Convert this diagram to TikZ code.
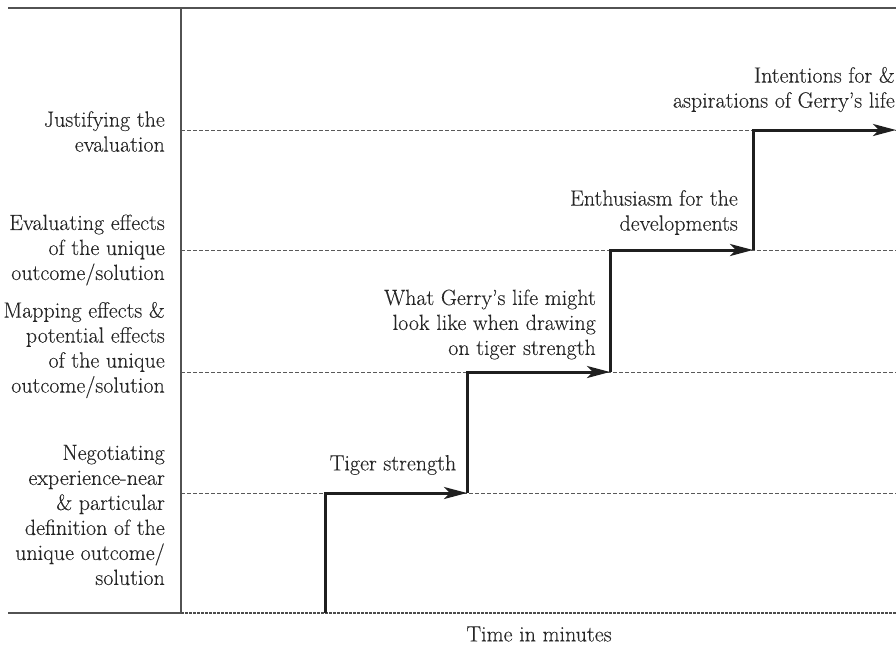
\documentclass[tikz,border=0pt]{standalone}
\usepackage{fontspec}
\setmainfont{Latin Modern Roman}[UprightFeatures={FakeBold=0.15}]
\usetikzlibrary{arrows.meta}
\begin{document}
\begin{tikzpicture}[x=1pt,y=-1pt,
  frame/.style={draw=black!68,line width=1.4pt},
  level/.style={draw=black!65,line width=0.9pt,dash pattern=on 4pt off 2pt},
  baseline dash/.style={draw=black!70,line width=1.3pt,dash pattern=on 3pt off 1pt},
  stair/.style={draw=black!88,line width=3pt,
    -{Stealth[length=23pt,width=12pt,inset=6pt]}},
  lab/.style={font=\fontsize{22}{25}\selectfont,text=black!85,align=right,inner sep=0pt},
]
\useasboundingbox (0,0) rectangle (896,645);

% frame corners and axis
\coordinate (tl) at (8,8);
\coordinate (tr) at (896,8);
\coordinate (ax top) at (181,8);
\coordinate (ax bot) at (181,613);
\coordinate (bl) at (8,613);
\coordinate (br) at (896,613);

% level lines
\foreach \n/\y in {l1/130, l2/250, l3/372, l4/493}{
  \coordinate (\n a) at (181,\y);
  \coordinate (\n b) at (896,\y);
  \draw[level] (\n a) -- (\n b);
}

\draw[frame] (tl) -- (tr);
\draw[frame] (ax top) -- (ax bot);
\draw[frame] (bl) -- (ax bot);
\draw[baseline dash] (ax bot) -- (br);

% staircase
\coordinate (s0) at (325,613);
\coordinate (s1) at (467,493);
\coordinate (s2) at (610,372);
\coordinate (s3) at (753,250);
\coordinate (s4) at (896,130);
\draw[stair] (s0) |- (s1);
\draw[stair] (s1) |- (s2);
\draw[stair] (s2) |- (s3);
\draw[stair] (s3) |- (s4);

% stage labels on the left
\node[lab,anchor=east] (justify) at (165,131.5) {Justifying the\\evaluation};
\node[lab,anchor=east] (evaluate) at (165,250) {Evaluating effects\\of the unique\\outcome/solution};
\node[lab,anchor=east] (mapping) at (165,350) {Mapping effects \&\\potential effects\\of the unique\\outcome/solution};
\node[lab,anchor=east] (negotiate) at (165,515) {Negotiating\\experience-near\\\& particular\\definition of the\\unique outcome/\\solution};

% step labels
\node[lab] (tiger) at (393,465) {Tiger strength};
\node[lab,anchor=east] (gerry) at (596,324.5) {What Gerry’s life might\\look like when drawing\\on tiger strength};
\node[lab,anchor=east] (enthus) at (738,212.5) {Enthusiasm for the\\developments};
\node[lab,anchor=east] (intent) at (895,89.5) {Intentions for \&\\aspirations of Gerry’s life};

% axis title
\node[lab] (time) at (539,634) {Time in minutes};
\end{tikzpicture}
\end{document}
